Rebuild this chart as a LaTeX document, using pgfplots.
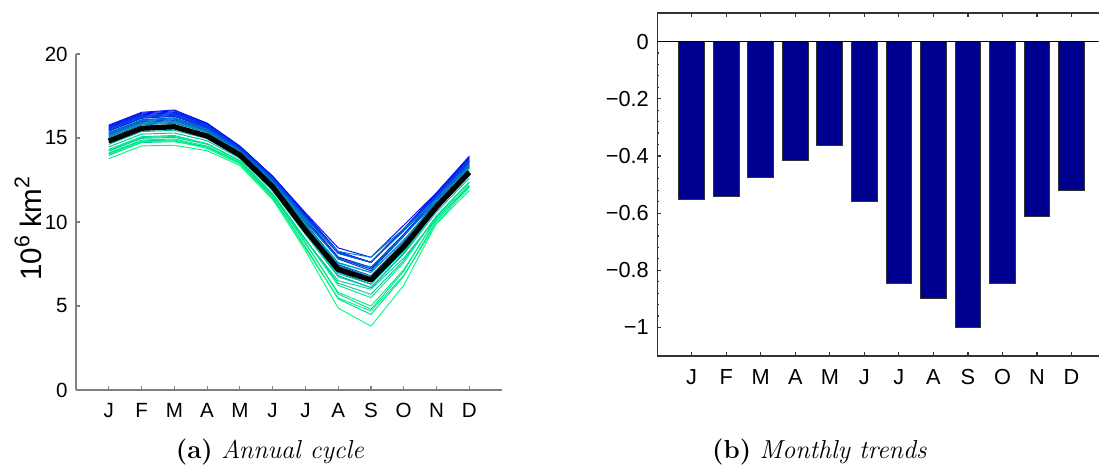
\documentclass[border=0pt]{standalone}
\usepackage{fontspec}
\setsansfont{Liberation Sans}
\usepackage{pgfplots}
\pgfplotsset{compat=1.18}
\definecolor{wg}{rgb}{0,1,0.5}
\definecolor{barblue}{rgb}{0,0,0.5625}
\tikzset{wl/.style={color=blue!#1!wg, line width=0.4pt, line join=round}}
\newcommand{\sups}[1]{\raisebox{0.42em}{\fontsize{9}{10}\selectfont #1}}
\begin{document}
\begin{tikzpicture}[x=1pt,y=1pt]
\useasboundingbox (0,0) rectangle (465,196.33);
\begin{axis}[
  at={(32.16pt,31.31pt)}, anchor=south west, scale only axis,
  width=180.25pt, height=142.17pt,
  xmin=0, xmax=13, ymin=0, ymax=20,
  axis x line*=bottom, axis y line*=left,
  axis line style={black!50, line width=0.5pt},
  tick style={black!50, line width=0.5pt},
  major tick length=1.8pt,
  tick align=inside,
  xtick={1,...,12}, xticklabels={J,F,M,A,M,J,J,A,S,O,N,D},
  ytick={0,5,10,15,20}, yticklabels={0,5,10,15,20},
  ticklabel style={font=\sffamily\fontsize{8.7}{10}\selectfont, text=black},
  xticklabel style={yshift=-2pt},
  ylabel={10\sups{6} km\sups{2}},
  ylabel style={font=\sffamily\fontsize{12.5}{14}\selectfont, at={(axis description cs:-0.112,0.48)}, anchor=center},
  clip=false,
]
\addplot[wl=100] coordinates {(1,15.62)(2,16.38)(3,16.51)(4,15.77)(5,14.44)(6,12.65)(7,10.40)(8,8.21)(9,7.6)(10,9.56)(11,11.63)(12,13.77)};
\addplot[wl=97] coordinates {(1,15.72)(2,16.48)(3,16.62)(4,15.86)(5,14.51)(6,12.73)(7,10.55)(8,8.46)(9,7.9)(10,9.81)(11,11.74)(12,13.88)};
\addplot[wl=94] coordinates {(1,15.42)(2,16.18)(3,16.30)(4,15.61)(5,14.33)(6,12.51)(7,10.19)(8,7.92)(9,7.3)(10,9.27)(11,11.44)(12,13.57)};
\addplot[wl=91] coordinates {(1,15.77)(2,16.53)(3,16.67)(4,15.89)(5,14.52)(6,12.73)(7,10.49)(8,8.25)(9,7.6)(10,9.60)(11,11.73)(12,13.92)};
\addplot[wl=88] coordinates {(1,15.67)(2,16.43)(3,16.56)(4,15.81)(5,14.47)(6,12.67)(7,10.43)(8,8.22)(9,7.6)(10,9.57)(11,11.66)(12,13.82)};
\addplot[wl=85] coordinates {(1,15.42)(2,16.18)(3,16.30)(4,15.60)(5,14.32)(6,12.50)(7,10.16)(8,7.85)(9,7.2)(10,9.20)(11,11.43)(12,13.56)};
\addplot[wl=82] coordinates {(1,15.52)(2,16.28)(3,16.41)(4,15.67)(5,14.37)(6,12.54)(7,10.19)(8,7.80)(9,7.1)(10,9.15)(11,11.48)(12,13.65)};
\addplot[wl=79] coordinates {(1,15.57)(2,16.33)(3,16.46)(4,15.74)(5,14.42)(6,12.62)(7,10.37)(8,8.19)(9,7.6)(10,9.54)(11,11.59)(12,13.73)};
\addplot[wl=76] coordinates {(1,15.47)(2,16.23)(3,16.35)(4,15.66)(5,14.37)(6,12.56)(7,10.31)(8,8.16)(9,7.6)(10,9.51)(11,11.52)(12,13.63)};
\addplot[wl=73] coordinates {(1,15.52)(2,16.28)(3,16.41)(4,15.70)(5,14.39)(6,12.59)(7,10.34)(8,8.18)(9,7.6)(10,9.53)(11,11.56)(12,13.68)};
\addplot[wl=70] coordinates {(1,15.22)(2,15.98)(3,16.09)(4,15.46)(5,14.23)(6,12.40)(7,10.07)(8,7.86)(9,7.3)(10,9.21)(11,11.30)(12,13.38)};
\addplot[wl=67] coordinates {(1,15.32)(2,16.08)(3,16.20)(4,15.50)(5,14.25)(6,12.39)(7,9.95)(8,7.44)(9,6.7)(10,8.79)(11,11.28)(12,13.44)};
\addplot[wl=64] coordinates {(1,15.17)(2,15.93)(3,16.04)(4,15.40)(5,14.18)(6,12.32)(7,9.89)(8,7.47)(9,6.8)(10,8.82)(11,11.19)(12,13.31)};
\addplot[wl=61] coordinates {(1,15.32)(2,16.08)(3,16.20)(4,15.55)(5,14.29)(6,12.48)(7,10.22)(8,8.12)(9,7.6)(10,9.47)(11,11.42)(12,13.49)};
\addplot[wl=58] coordinates {(1,15.27)(2,16.03)(3,16.14)(4,15.46)(5,14.22)(6,12.35)(7,9.89)(8,7.35)(9,6.6)(10,8.70)(11,11.23)(12,13.39)};
\addplot[wl=55] coordinates {(1,15.12)(2,15.88)(3,15.99)(4,15.38)(5,14.18)(6,12.34)(7,10.01)(8,7.83)(9,7.3)(10,9.18)(11,11.23)(12,13.28)};
\addplot[wl=52] coordinates {(1,14.92)(2,15.68)(3,15.78)(4,15.18)(5,14.03)(6,12.13)(7,9.59)(8,7.02)(9,6.3)(10,8.37)(11,10.94)(12,13.04)};
\addplot[wl=48] coordinates {(1,15.02)(2,15.78)(3,15.88)(4,15.34)(5,14.16)(6,12.35)(7,10.13)(8,8.25)(9,7.9)(10,9.60)(11,11.25)(12,13.22)};
\addplot[wl=45] coordinates {(1,15.07)(2,15.83)(3,15.93)(4,15.33)(5,14.14)(6,12.28)(7,9.89)(8,7.59)(9,7.0)(10,8.94)(11,11.15)(12,13.22)};
\addplot[wl=42] coordinates {(1,15.12)(2,15.88)(3,15.99)(4,15.35)(5,14.15)(6,12.28)(7,9.83)(8,7.38)(9,6.7)(10,8.73)(11,11.14)(12,13.25)};
\addplot[wl=39] coordinates {(1,14.82)(2,15.58)(3,15.67)(4,15.12)(5,13.99)(6,12.10)(7,9.59)(8,7.14)(9,6.5)(10,8.49)(11,10.90)(12,12.96)};
\addplot[wl=36] coordinates {(1,14.72)(2,15.48)(3,15.57)(4,15.05)(5,13.94)(6,12.05)(7,9.56)(8,7.19)(9,6.6)(10,8.54)(11,10.85)(12,12.87)};
\addplot[wl=33] coordinates {(1,14.92)(2,15.68)(3,15.78)(4,15.22)(5,14.06)(6,12.20)(7,9.80)(8,7.55)(9,7.0)(10,8.90)(11,11.05)(12,13.08)};
\addplot[wl=30] coordinates {(1,14.72)(2,15.48)(3,15.57)(4,15.02)(5,13.92)(6,12.00)(7,9.41)(8,6.81)(9,6.1)(10,8.16)(11,10.77)(12,12.84)};
\addplot[wl=27] coordinates {(1,14.62)(2,15.38)(3,15.46)(4,14.96)(5,13.88)(6,11.97)(7,9.41)(8,6.93)(9,6.3)(10,8.28)(11,10.73)(12,12.76)};
\addplot[wl=24] coordinates {(1,14.47)(2,15.23)(3,15.30)(4,14.84)(5,13.79)(6,11.86)(7,9.26)(8,6.74)(9,6.1)(10,8.09)(11,10.60)(12,12.61)};
\addplot[wl=21] coordinates {(1,14.22)(2,14.98)(3,15.04)(4,14.63)(5,13.65)(6,11.69)(7,8.99)(8,6.36)(9,5.7)(10,7.71)(11,10.36)(12,12.35)};
\addplot[wl=18] coordinates {(1,13.97)(2,14.73)(3,14.78)(4,14.46)(5,13.54)(6,11.58)(7,8.93)(8,6.51)(9,6.0)(10,7.86)(11,10.23)(12,12.13)};
\addplot[wl=15] coordinates {(1,14.07)(2,14.83)(3,14.88)(4,14.46)(5,13.51)(6,11.48)(7,8.54)(8,5.42)(9,4.5)(10,6.77)(11,10.08)(12,12.15)};
\addplot[wl=12] coordinates {(1,14.32)(2,15.08)(3,15.15)(4,14.66)(5,13.65)(6,11.65)(7,8.78)(8,5.72)(9,4.8)(10,7.07)(11,10.30)(12,12.40)};
\addplot[wl=9] coordinates {(1,14.27)(2,15.03)(3,15.09)(4,14.66)(5,13.66)(6,11.69)(7,8.96)(8,6.23)(9,5.5)(10,7.58)(11,10.37)(12,12.39)};
\addplot[wl=6] coordinates {(1,14.12)(2,14.88)(3,14.94)(4,14.52)(5,13.56)(6,11.56)(7,8.72)(8,5.81)(9,5.0)(10,7.16)(11,10.19)(12,12.22)};
\addplot[wl=3] coordinates {(1,13.77)(2,14.53)(3,14.57)(4,14.24)(5,13.37)(6,11.34)(7,8.42)(8,5.48)(9,4.7)(10,6.83)(11,9.90)(12,11.87)};
\addplot[wl=0] coordinates {(1,14.02)(2,14.78)(3,14.83)(4,14.38)(5,13.45)(6,11.39)(7,8.30)(8,4.88)(9,3.8)(10,6.23)(11,9.94)(12,12.06)};
\addplot[black, line width=2.2pt, line join=round] coordinates {(1,14.82)(2,15.58)(3,15.67)(4,15.12)(5,13.99)(6,12.10)(7,9.52)(8,7.18)(9,6.55)(10,8.53)(11,10.91)(12,12.96)};
\end{axis}
\begin{axis}[
  at={(278.03pt,45.70pt)}, anchor=south west, scale only axis,
  width=186.76pt, height=145.13pt,
  xmin=0, xmax=12.78, ymin=-1.1, ymax=0.1,
  axis y line*=left,
  axis line style={black!80, line width=0.5pt},
  tick style={black!80, line width=0.5pt},
  major tick length=1.8pt, minor tick length=1pt,
  tick align=inside,
  xtick={1,...,12}, xticklabels={J,F,M,A,M,J,J,A,S,O,N,D},
  ytick={-1,-0.8,-0.6,-0.4,-0.2,0}, yticklabels={−1,−0.8,−0.6,−0.4,−0.2,0},
  minor y tick num=4,
  ticklabel style={font=\sffamily\fontsize{9.2}{10}\selectfont, text=black},
  xticklabel style={yshift=-2pt},
]
\addplot[ybar, bar width=0.745, fill=barblue, draw=black!80, line width=0.4pt] coordinates {(1,-0.554)(2,-0.541)(3,-0.477)(4,-0.415)(5,-0.364)(6,-0.558)(7,-0.845)(8,-0.897)(9,-0.999)(10,-0.845)(11,-0.612)(12,-0.522)};
\addplot[black, line width=0.5pt] coordinates {(0,0)(12.78,0)};
\end{axis}
\node[anchor=base, font=\fontsize{11}{13}\selectfont] at (114.2,2.5) {\textbf{(a)} \textit{Annual cycle}};
\node[anchor=base, font=\fontsize{11}{13}\selectfont] at (346.7,2.5) {\textbf{(b)} \textit{Monthly trends}};
\end{tikzpicture}
\end{document}
